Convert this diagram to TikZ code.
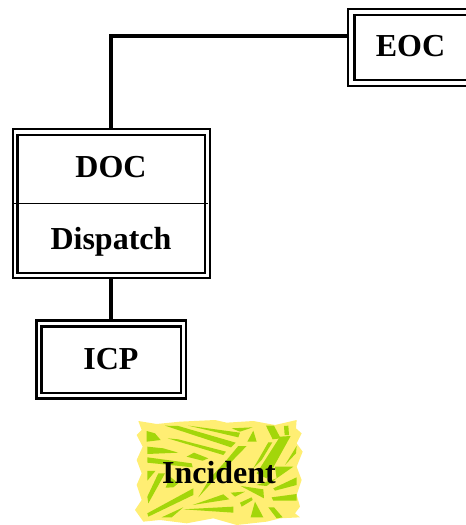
\documentclass[tikz,border=0pt]{standalone}
\usepackage{fontspec}
\setmainfont{Liberation Serif}
\definecolor{blobyellow}{HTML}{FFEE73}
\definecolor{blobgreen}{HTML}{A3D60A}
\tikzset{
 x=1pt,y=-1pt,
 outerline/.style={draw=black,line width=2.7pt},
 innerline/.style={draw=black,line width=2.6pt},
 conn/.style={draw=black,line width=4pt},
 lbl/.style={font=\fontsize{32}{34}\selectfont\bfseries,inner sep=0pt,text=black,anchor=base},
 patch/.style={fill=blobgreen,draw=none},
}
\begin{document}
\begin{tikzpicture}
\useasboundingbox (0,0) rectangle (466,525);
\clip (0,0) rectangle (466,525);
% connectors
\coordinate (eocw) at (349,36);
\coordinate (bend) at (111,36);
\coordinate (doctop) at (111,129);
\coordinate (docbot) at (111,278);
\coordinate (icptop) at (111,321);
\draw[conn,line join=miter] (eocw) -- (bend) -- (doctop);
\draw[conn] (docbot) -- (icptop);
% EOC
\draw[outerline] (348,9) rectangle (490,86);
\draw[innerline] (354.5,15) rectangle (480,80);
\node[lbl] (eoc) at (410.5,56) {EOC};
% DOC
\draw[outerline] (13,129) rectangle (210,278);
\draw[innerline] (17.5,135) rectangle (205,273);
\draw[black,line width=1.6pt] (14,203.5) -- (208,203.5);
\node[lbl] (doc) at (111,177) {DOC};
\node[lbl] (dispatch) at (111,249) {Dispatch};
% ICP
\draw[outerline] (36.5,320.5) rectangle (186,398.5);
\draw[innerline] (41.5,326.5) rectangle (181,393);
\node[lbl] (icp) at (111,369) {ICP};
% Incident
\begin{scope}[shift={(120,410)},x=0.3333pt,y=-0.3333pt]
\fill[blobyellow] (55,33)--(110,42)--(180,35)--(285,30)--(320,38)--(400,33)--(465,45)--(530,30)--(528,55)--(545,70)--(530,100)--(548,125)--(530,170)--(545,210)--(530,255)--(540,290)--(525,310)--(540,322)--(480,325)--(440,335)--(350,345)--(280,325)--(200,340)--(120,330)--(70,335)--(45,300)--(65,270)--(50,225)--(65,190)--(50,150)--(68,110)--(50,75)--(65,60)--cycle;
\foreach \p in {
 {(80,63)--(105,70)--(122,90)--(80,95)},
 {(135,47)--(175,48)--(347,98)--(333,112)},
 {(205,47)--(360,68)--(355,82)},
 {(335,55)--(398,52)--(360,65)},
 {(382,95)--(400,62)--(410,95)},
 {(438,47)--(462,47)--(482,85)--(458,88)},
 {(492,48)--(505,47)--(507,75)--(494,75)},
 {(143,85)--(175,88)--(318,125)--(310,135)},
 {(82,110)--(130,115)--(175,128)--(82,132)},
 {(200,140)--(222,128)--(265,145)--(248,152)},
 {(82,142)--(215,160)--(218,172)--(82,158)},
 {(82,183)--(106,183)--(82,212)},
 {(355,108)--(380,108)--(310,180)--(235,262)--(270,205)--(320,150)},
 {(445,97)--(457,97)--(425,150)--(400,175)},
 {(480,80)--(512,78)--(450,190)--(440,205)--(410,190)},
 {(530,108)--(528,130)--(495,165)},
 {(115,190)--(135,190)--(85,280)--(82,260)},
 {(82,310)--(220,235)--(220,255)--(85,320)},
 {(125,322)--(190,292)--(155,322)},
 {(190,298)--(340,290)--(340,308)},
 {(218,285)--(310,253)--(328,268)},
 {(332,248)--(375,245)--(345,260)},
 {(362,228)--(430,238)--(432,265)},
 {(360,278)--(395,262)--(398,270)--(365,290)},
 {(392,322)--(405,275)--(430,322)},
 {(445,292)--(462,292)--(488,322)--(470,325)},
 {(455,262)--(530,252)--(530,272)--(460,272)},
 {(460,235)--(530,202)--(530,225)--(465,242)},
 {(465,170)--(520,170)--(470,205)},
 {(150,200)--(175,220)--(160,232)--(137,233)},
 {(410,225)--(470,205)--(440,228)}
}{\expandafter\fill\expandafter[\expandafter p\expandafter a\expandafter t\expandafter c\expandafter h\expandafter]\p;}
\end{scope}
\node[lbl] (incident) at (219,483) {Incident};
\end{tikzpicture}
\end{document}
